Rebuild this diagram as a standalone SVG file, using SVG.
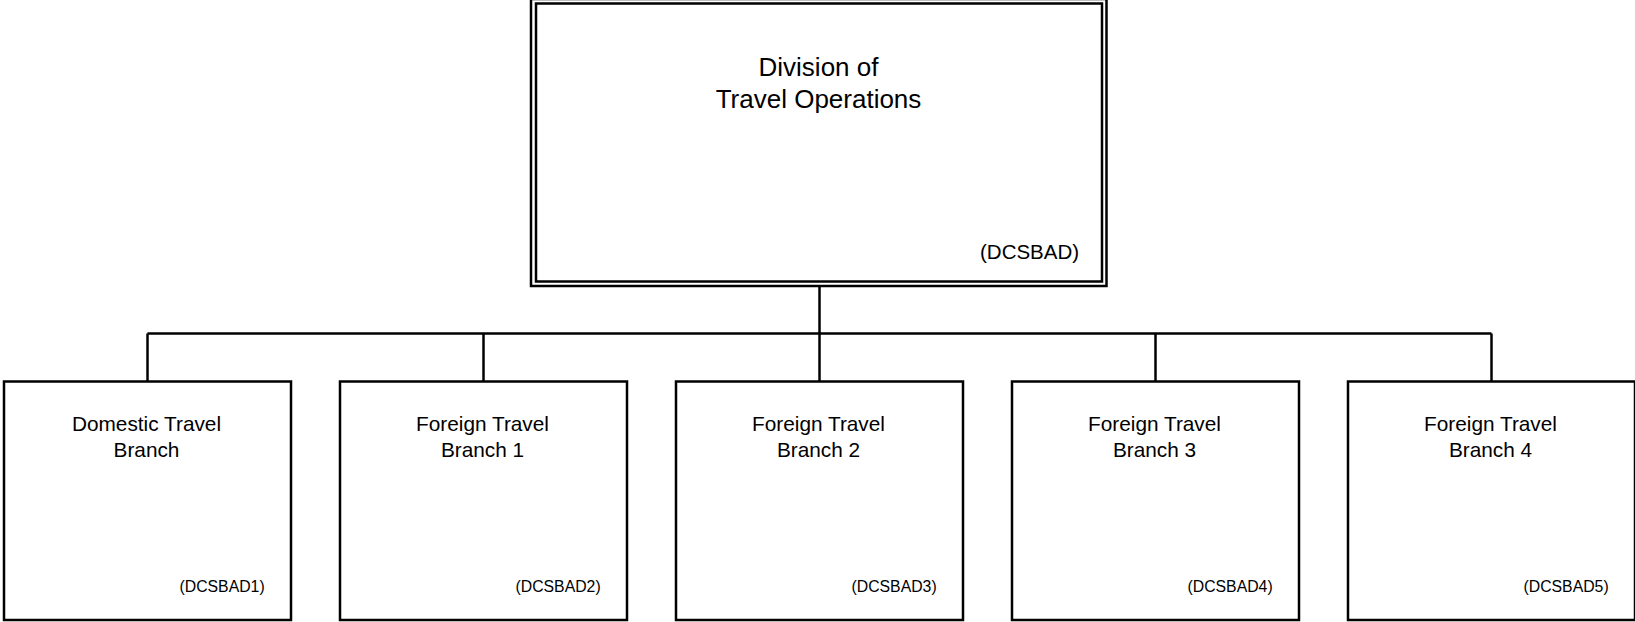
<svg xmlns="http://www.w3.org/2000/svg" width="1635" height="622" viewBox="0 0 1635 622">
  <style>
    .box { fill: #fff; stroke: #000; stroke-width: 2.5; }
    .conn { fill: none; stroke: #000; stroke-width: 2.5; }
    .t { font-family: "Liberation Sans", Arial, sans-serif; fill: #000; }
    .title { font-size: 20.8px; text-anchor: middle; }
    .code { font-size: 15.8px; }
    .top { font-size: 26px; text-anchor: middle; }
    .topcode { font-size: 20.5px; }
  </style>
  <rect width="1635" height="622" fill="#fff"/>
  <g id="connectors">
    <line class="conn" x1="819.5" y1="286" x2="819.5" y2="381.5"/>
    <line class="conn" x1="147.5" y1="333.5" x2="1491.5" y2="333.5"/>
    <line class="conn" x1="147.5" y1="333.5" x2="147.5" y2="381.5"/>
    <line class="conn" x1="483.5" y1="333.5" x2="483.5" y2="381.5"/>
    <line class="conn" x1="1155.5" y1="333.5" x2="1155.5" y2="381.5"/>
    <line class="conn" x1="1491.5" y1="333.5" x2="1491.5" y2="381.5"/>
  </g>
  <g id="node-top">
    <rect class="box" x="531" y="-1" width="575.5" height="287"/>
    <rect class="box" x="536" y="3.5" width="566" height="278"/>
    <text class="t top" x="818.5" y="76">Division of</text>
    <text class="t top" x="818.5" y="108">Travel Operations</text>
    <text class="t topcode" x="980" y="259">(DCSBAD)</text>
  </g>
  <g id="node-1">
    <rect class="box" x="4" y="381.5" width="287" height="238.5"/>
    <text class="t title" x="146.5" y="431">Domestic Travel</text>
    <text class="t title" x="146.5" y="457">Branch</text>
    <text class="t code" x="179.5" y="592">(DCSBAD1)</text>
  </g>
  <g id="node-2">
    <rect class="box" x="340" y="381.5" width="287" height="238.5"/>
    <text class="t title" x="482.5" y="431">Foreign Travel</text>
    <text class="t title" x="482.5" y="457">Branch 1</text>
    <text class="t code" x="515.5" y="592">(DCSBAD2)</text>
  </g>
  <g id="node-3">
    <rect class="box" x="676" y="381.5" width="287" height="238.5"/>
    <text class="t title" x="818.5" y="431">Foreign Travel</text>
    <text class="t title" x="818.5" y="457">Branch 2</text>
    <text class="t code" x="851.5" y="592">(DCSBAD3)</text>
  </g>
  <g id="node-4">
    <rect class="box" x="1012" y="381.5" width="287" height="238.5"/>
    <text class="t title" x="1154.5" y="431">Foreign Travel</text>
    <text class="t title" x="1154.5" y="457">Branch 3</text>
    <text class="t code" x="1187.5" y="592">(DCSBAD4)</text>
  </g>
  <g id="node-5">
    <rect class="box" x="1348" y="381.5" width="287" height="238.5"/>
    <text class="t title" x="1490.5" y="431">Foreign Travel</text>
    <text class="t title" x="1490.5" y="457">Branch 4</text>
    <text class="t code" x="1523.5" y="592">(DCSBAD5)</text>
  </g>
</svg>
